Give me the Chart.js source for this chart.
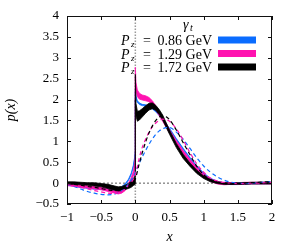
<!DOCTYPE html>
<html>
<head>
<meta charset="utf-8">
<script src="https://cdn.jsdelivr.net/npm/chart.js@4.4.0/dist/chart.umd.min.js"></script>
<style>
  html, body { margin: 0; padding: 0; background: #fff; }
</style>
</head>
<body>
<canvas id="grafico" width="303" height="248"></canvas>
<script>
// ticks
const xTicks = [-1, -0.5, 0, 0.5, 1, 1.5, 2];
const yTicks = [-0.5, 0, 0.5, 1, 1.5, 2, 2.5, 3, 3.5, 4];

// leyenda
const momentos = ["0.86", "1.29", "1.72"];

// bandas (x=0 aparece dos veces: salto)
const xBanda = [-1, -0.9, -0.8, -0.7, -0.6, -0.5, -0.4, -0.3, -0.25, -0.2, -0.15, -0.1,
  -0.06, -0.03, -0.01, 0, 0, 0.01, 0.03, 0.06, 0.1, 0.15, 0.2, 0.25, 0.3, 0.35, 0.4, 0.5,
  0.6, 0.7, 0.8, 0.9, 1.0, 1.1, 1.2, 1.3, 1.4, 1.5, 1.6, 1.7, 1.8, 1.9, 2.0];

const azulCentro = [-0.03, -0.06, -0.09, -0.11, -0.13, -0.14, -0.16, -0.17, -0.15, -0.10, -0.03, 0.08,
  0.22, 0.40, 0.60, 0.75, 2.20, 2.05, 1.95, 1.90, 1.87, 1.86, 1.84, 1.79, 1.72, 1.63, 1.52, 1.30,
  1.05, 0.82, 0.60, 0.40, 0.23, 0.10, 0.03, -0.01, -0.02, -0.02, -0.01, 0, 0, 0, 0];
const azulError = [0.015, 0.015, 0.015, 0.015, 0.015, 0.015, 0.015, 0.015, 0.015, 0.015, 0.015, 0.015,
  0.02, 0.02, 0.02, 0.03, 0.04, 0.03, 0.02, 0.02, 0.015, 0.015, 0.015, 0.015, 0.015, 0.015, 0.015, 0.015,
  0.015, 0.015, 0.015, 0.015, 0.015, 0.015, 0.015, 0.015, 0.015, 0.015, 0.015, 0.015, 0.015, 0.015, 0.015];

const magentaCentro = [-0.03, -0.05, -0.07, -0.09, -0.11, -0.13, -0.17, -0.21, -0.22, -0.20, -0.14, -0.04,
  0.08, 0.22, 0.40, 0.55, 2.65, 2.30, 2.15, 2.08, 2.05, 2.03, 2.00, 1.92, 1.80, 1.66, 1.53, 1.24,
  0.98, 0.74, 0.53, 0.34, 0.18, 0.07, 0.01, -0.01, -0.01, -0.01, 0, 0, 0, 0, 0];
const magentaError = [0.03, 0.03, 0.03, 0.03, 0.03, 0.03, 0.03, 0.03, 0.04, 0.04, 0.04, 0.04,
  0.05, 0.06, 0.08, 0.1, 0.12, 0.1, 0.08, 0.07, 0.06, 0.06, 0.05, 0.05, 0.05, 0.05, 0.05, 0.04,
  0.04, 0.04, 0.04, 0.04, 0.03, 0.03, 0.03, 0.03, 0.02, 0.02, 0.02, 0.02, 0.02, 0.02, 0.02];

const negroCentro = [0.00, 0.00, -0.01, -0.02, -0.03, -0.05, -0.08, -0.12, -0.14, -0.13, -0.10, -0.07,
  -0.03, 0.02, 0.06, 0.10, 2.30, 1.75, 1.60, 1.62, 1.68, 1.76, 1.83, 1.85, 1.80, 1.70, 1.57, 1.22,
  0.90, 0.64, 0.44, 0.27, 0.14, 0.06, 0.01, -0.01, -0.01, -0.01, -0.01, 0, 0, 0, 0];
const negroError = [0.03, 0.03, 0.03, 0.03, 0.04, 0.04, 0.05, 0.05, 0.05, 0.05, 0.05, 0.06,
  0.07, 0.08, 0.1, 0.12, 0.3, 0.15, 0.12, 0.11, 0.1, 0.09, 0.08, 0.07, 0.06, 0.06, 0.06, 0.05,
  0.05, 0.05, 0.04, 0.04, 0.03, 0.03, 0.02, 0.02, 0.02, 0.02, 0.02, 0.02, 0.02, 0.02, 0.02];

// curvas discontinuas
const xDisc = [-1, -0.9, -0.8, -0.7, -0.6, -0.5, -0.4, -0.3, -0.2, -0.1, 0, 0.05, 0.1, 0.15, 0.2,
  0.25, 0.3, 0.35, 0.4, 0.45, 0.5, 0.6, 0.7, 0.8, 0.9, 1.0, 1.1, 1.2, 1.3, 1.4, 1.5, 1.6, 1.7, 1.8, 1.9, 2.0];
const azulDisc = [-0.03, -0.08, -0.14, -0.20, -0.24, -0.27, -0.28, -0.26, -0.18, -0.02, 0.25, 0.45, 0.62,
  0.78, 0.93, 1.06, 1.17, 1.25, 1.30, 1.33, 1.33, 1.22, 1.05, 0.83, 0.60, 0.41, 0.26, 0.15, 0.07, 0.02,
  0.00, -0.01, 0.00, 0.01, 0.03, 0.04];
const magentaDisc = [-0.03, -0.06, -0.10, -0.14, -0.18, -0.21, -0.24, -0.25, -0.20, -0.05, 0.20, 0.55, 0.85,
  1.05, 1.22, 1.35, 1.44, 1.50, 1.53, 1.52, 1.48, 1.30, 1.03, 0.73, 0.46, 0.26, 0.12, 0.05, 0.01, 0.00,
  -0.01, -0.01, 0.00, 0.00, 0.01, 0.01];
const negroDisc = [-0.01, -0.03, -0.05, -0.08, -0.10, -0.13, -0.16, -0.18, -0.15, -0.05, 0.10, 0.42, 0.72,
  0.98, 1.20, 1.37, 1.50, 1.58, 1.61, 1.59, 1.52, 1.27, 0.97, 0.68, 0.40, 0.20, 0.08, 0.02, -0.01, -0.02,
  -0.01, 0.00, 0.01, 0.02, 0.03, 0.03];

const azul = "#0a6cff";
const magenta = "#ff12b0";
const negro = "#000000";
const fuente = "'Liberation Serif', serif";

function puntos(xs, ys) {
  return xs.map((x, i) => ({ x: x, y: ys[i] }));
}

function banda(centro, error, color, orden) {
  const abajo = puntos(xBanda, centro.map((c, i) => c - error[i]));
  const arriba = puntos(xBanda, centro.map((c, i) => c + error[i]));
  return [
    { data: abajo, borderColor: color, borderWidth: 0.8, pointRadius: 0, fill: false, order: orden, tension: 0 },
    { data: arriba, borderColor: color, borderWidth: 0.8, pointRadius: 0, fill: "-1", backgroundColor: color, order: orden, tension: 0 }
  ];
}

function discontinua(ys, color, orden) {
  return {
    data: puntos(xDisc, ys), borderColor: color, borderWidth: 1.2, borderDash: [4, 3],
    pointRadius: 0, fill: false, order: orden, cubicInterpolationMode: "monotone"
  };
}

const datasets = [
  { data: [{ x: -1, y: 0 }, { x: 2, y: 0 }], borderColor: "#333", borderWidth: 0.8, borderDash: [2, 2], pointRadius: 0, fill: false, order: 20 },
  { data: [{ x: 0, y: -0.5 }, { x: 0, y: 4 }], borderColor: "#9a9a9a", borderWidth: 1.5, borderDash: [1.5, 1.5], pointRadius: 0, fill: false, order: 19 },
  ...banda(azulCentro, azulError, azul, 9),
  ...banda(magentaCentro, magentaError, magenta, 8),
  ...banda(negroCentro, negroError, negro, 7),
  discontinua(azulDisc, azul, 3),
  discontinua(magentaDisc, magenta, 2),
  discontinua(negroDisc, negro, 1)
];

function etiqueta(v) {
  return v < 0 ? "\u2212" + Math.abs(v) : String(v);
}

const marco = {
  id: "marco",
  afterDatasetsDraw(chart) {
    const { ctx, chartArea: a, scales } = chart;
    ctx.save();
    ctx.strokeStyle = "#111";
    ctx.lineWidth = 1;
    ctx.strokeRect(a.left + 0.5, a.top + 0.5, a.right - a.left - 1, a.bottom - a.top - 1);
    ctx.beginPath();
    xTicks.forEach((v) => {
      const px = Math.round(scales.x.getPixelForValue(v)) + 0.5;
      ctx.moveTo(px, a.bottom); ctx.lineTo(px, a.bottom - 4);
      ctx.moveTo(px, a.top); ctx.lineTo(px, a.top + 4);
    });
    yTicks.forEach((v) => {
      const py = Math.round(scales.y.getPixelForValue(v)) + 0.5;
      ctx.moveTo(a.left, py); ctx.lineTo(a.left + 4, py);
      ctx.moveTo(a.right, py); ctx.lineTo(a.right - 4, py);
    });
    ctx.stroke();

    // leyenda
    ctx.fillStyle = "#000";
    ctx.textBaseline = "alphabetic";
    ctx.textAlign = "left";
    ctx.font = "italic 14px " + fuente;
    ctx.fillText("\u03b3", 183, 29);
    ctx.font = "italic 10px " + fuente;
    ctx.fillText("t", 190, 31);

    const colores = [azul, magenta, negro];
    momentos.forEach((m, i) => {
      const yc = 40 + i * 13.5;
      ctx.fillStyle = "#000";
      ctx.font = "italic 14px " + fuente;
      ctx.textAlign = "left";
      ctx.fillText("P", 121, yc + 5);
      ctx.font = "italic 9px " + fuente;
      ctx.fillText("z", 131, yc + 7);
      ctx.font = "14px " + fuente;
      ctx.textAlign = "center";
      ctx.fillText("=", 147, yc + 5);
      ctx.textAlign = "right";
      ctx.fillText(m + " GeV", 212, yc + 5);
      ctx.fillStyle = colores[i];
      ctx.fillRect(218, yc - 3.5, 38, 7);
    });
    ctx.restore();
  }
};

new Chart(document.getElementById("grafico"), {
  type: "line",
  data: { datasets: datasets },
  options: {
    responsive: false,
    animation: false,
    layout: { padding: { top: 16, right: 31, left: 0, bottom: 0 } },
    plugins: { legend: { display: false }, tooltip: { enabled: false } },
    scales: {
      x: {
        type: "linear", min: -1, max: 2,
        afterBuildTicks: (s) => { s.ticks = xTicks.map((v) => ({ value: v })); },
        afterFit: (s) => { s.height = 44; },
        grid: { display: false, drawTicks: false },
        border: { display: false },
        ticks: { color: "#000", padding: 6, font: { family: fuente, size: 13 }, callback: etiqueta, maxRotation: 0 },
        title: { display: true, text: "x", color: "#000", padding: { top: 0, bottom: 2 }, font: { family: fuente, size: 14, style: "italic" } }
      },
      y: {
        type: "linear", min: -0.5, max: 4,
        afterBuildTicks: (s) => { s.ticks = yTicks.map((v) => ({ value: v })); },
        afterFit: (s) => { s.width = 67; },
        grid: { display: false, drawTicks: false },
        border: { display: false },
        ticks: { color: "#000", padding: 8, font: { family: fuente, size: 13 }, callback: etiqueta },
        title: { display: true, text: "p(x)", color: "#000", padding: { top: 3, bottom: 0 }, font: { family: fuente, size: 14, style: "italic" } }
      }
    }
  },
  plugins: [marco]
});
</script>
</body>
</html>
